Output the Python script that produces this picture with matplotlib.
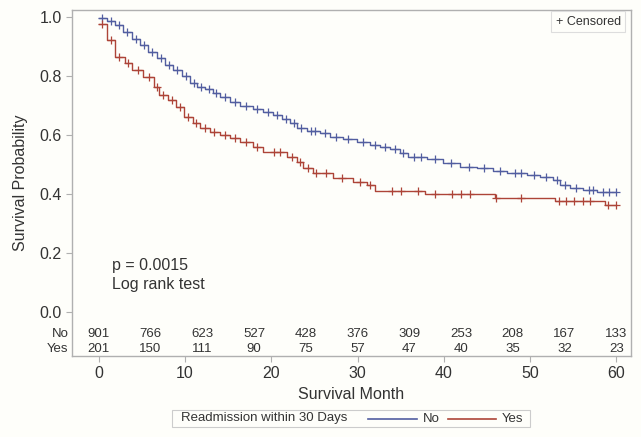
import numpy as np
import matplotlib
matplotlib.use("Agg")
import matplotlib.pyplot as plt
from matplotlib.lines import Line2D
from matplotlib.patches import Rectangle

plt.rcParams['font.family'] = ['Liberation Sans', 'DejaVu Sans']

# ---- data ----
no_t = [0, 0.93, 1.86, 2.78, 3.83, 4.76, 5.68, 6.73, 7.66, 8.58, 9.63, 10.56, 11.37, 12.3, 13.2,
        14.0, 15.2, 16.4, 17.9, 19.0, 20.2, 21.3, 22.2, 23.0, 24.1, 25.6, 26.8, 28.3, 29.9, 31.4,
        32.6, 33.8, 34.9, 35.8, 38.1, 39.9, 41.9, 43.9, 45.7, 47.3, 49.7, 51.2, 52.7, 53.5, 54.6,
        56.1, 57.8, 60.0]
no_s = [0.997, 0.986, 0.973, 0.95, 0.925, 0.905, 0.882, 0.86, 0.837, 0.82, 0.80, 0.776, 0.763,
        0.755, 0.742, 0.73, 0.712, 0.698, 0.688, 0.678, 0.668, 0.654, 0.64, 0.624, 0.614, 0.607,
        0.593, 0.586, 0.576, 0.566, 0.56, 0.552, 0.539, 0.525, 0.518, 0.505, 0.492, 0.488, 0.478,
        0.47, 0.464, 0.458, 0.447, 0.43, 0.42, 0.414, 0.407, 0.407]
no_cens = [0.4, 1.4, 2.3, 3.3, 4.3, 5.2, 6.2, 7.2, 8.1, 9.1, 10.1, 11.0, 11.8, 12.8, 13.6, 14.6,
           15.8, 17.1, 18.4, 19.6, 20.7, 21.7, 22.6, 23.5, 24.6, 25.1, 26.2, 27.5, 28.9, 30.6,
           32.0, 33.2, 34.3, 35.3, 36.6, 37.3, 39.0, 40.8, 42.9, 44.7, 46.5, 48.3, 49.0, 50.4,
           51.9, 53.1, 54.0, 55.3, 56.8, 57.3, 58.5, 59.2, 60.0]

yes_t = [0, 0.93, 1.86, 3.0, 3.9, 5.1, 6.4, 7.0, 8.0, 9.0, 9.9, 10.9, 11.7, 12.9, 14.0, 15.2,
         16.4, 17.9, 19.0, 21.8, 23.0, 23.7, 24.8, 27.1, 29.5, 31.1, 32.0, 37.8, 45.9, 52.9,
         58.7, 60.0]
yes_s = [0.975, 0.922, 0.864, 0.844, 0.82, 0.797, 0.763, 0.735, 0.718, 0.695, 0.661, 0.641,
         0.624, 0.61, 0.60, 0.59, 0.576, 0.56, 0.542, 0.525, 0.508, 0.488, 0.47, 0.455, 0.44,
         0.43, 0.41, 0.40, 0.388, 0.378, 0.362, 0.362]
yes_cens = [0.4, 1.4, 2.4, 3.4, 4.5, 5.8, 6.7, 7.5, 8.5, 9.4, 10.4, 11.3, 12.3, 13.4, 14.6, 15.8,
            17.1, 18.4, 20.3, 21.0, 22.4, 23.3, 24.2, 25.2, 26.3, 28.2, 30.3, 31.5, 34.0, 35.0,
            37.0, 39.0, 41.0, 42.0, 43.0, 46.0, 49.0, 53.3, 54.2, 55.1, 56.1, 57.0, 59.0, 60.0]

risk_months = [0, 6, 12, 18, 24, 30, 36, 42, 48, 54, 60]
risk_no = [901, 766, 623, 527, 428, 376, 309, 253, 208, 167, 133]
risk_yes = [201, 150, 111, 90, 75, 57, 47, 40, 35, 32, 23]

BLUE = '#525ea0'
RED = '#ad4438'
BG = '#fefefa'
TXT = '#333333'

fig = plt.figure(figsize=(6.41, 4.37), dpi=100, facecolor=BG)
ax = fig.add_axes([72/641, 1-356/437, (631-72)/641, (356-10)/437])
ax.set_facecolor(BG)


def step_val(t, s, x):
    i = np.searchsorted(t, x, side='right') - 1
    return np.asarray(s)[np.clip(i, 0, len(s)-1)]


for t, s, c, cens in [(no_t, no_s, BLUE, no_cens), (yes_t, yes_s, RED, yes_cens)]:
    ax.step(t, s, where='post', color=c, lw=1.0)
    ax.plot(cens, step_val(t, s, np.array(cens)), ls='none', marker='+', ms=6, mew=0.9, color=c)

ax.set_xlim(-3.1, 61.7)
ax.set_ylim(-0.149, 1.024)
ax.set_yticks([0, 0.2, 0.4, 0.6, 0.8, 1.0])
ax.set_yticklabels(['0.0', '0.2', '0.4', '0.6', '0.8', '1.0'])
ax.set_xticks([0, 10, 20, 30, 40, 50, 60])
for sp in ax.spines.values():
    sp.set_color('#b0b0b0')
    sp.set_linewidth(1.0)
ax.tick_params(axis='both', colors='#b0b0b0', labelcolor=TXT, labelsize=11.5, length=4, width=0.8)
ax.set_xlabel('Survival Month', fontsize=11.5, color=TXT, labelpad=4)
ax.set_ylabel('Survival Probability', fontsize=11.5, color=TXT, labelpad=8)

# at-risk table
yr_no = (312-334)/295
yr_yes = (312-349)/295
for m, a, b in zip(risk_months, risk_no, risk_yes):
    ax.text(m, yr_no, str(a), ha='center', va='center', fontsize=9.5, color=TXT)
    ax.text(m, yr_yes, str(b), ha='center', va='center', fontsize=9.5, color=TXT)
ax.text(-3.5, yr_no, 'No', ha='right', va='center', fontsize=9.5, color=TXT)
ax.text(-3.5, yr_yes, 'Yes', ha='right', va='center', fontsize=9.5, color=TXT)

# p-value text
ax.text(1.5, (312-265)/295, 'p = 0.0015', ha='left', va='center', fontsize=11.5, color=TXT)
ax.text(1.5, (312-284)/295, 'Log rank test', ha='left', va='center', fontsize=11.5, color=TXT)

# censored legend
ax.text(0.982, 0.966, '+ Censored', transform=ax.transAxes, ha='right', va='center', fontsize=9,
        color=TXT, bbox=dict(boxstyle='square,pad=0.35', fc=BG, ec='#dddddd', lw=0.8))

# bottom legend
W, H = 641, 437
fig.patches.append(Rectangle((172/W, 1-427/H), (530-172)/W, 17/H, transform=fig.transFigure,
                             fc=BG, ec='#cccccc', lw=0.8))
ymid = 1-418.5/H
fig.text(181/W, ymid, 'Readmission within 30 Days', ha='left', va='center', fontsize=9.5, color=TXT)
fig.lines.append(Line2D([368/W, 417/W], [ymid, ymid], transform=fig.transFigure, color=BLUE, lw=1.2))
fig.text(423/W, ymid, 'No', ha='left', va='center', fontsize=9.5, color=TXT)
fig.lines.append(Line2D([448/W, 496/W], [ymid, ymid], transform=fig.transFigure, color=RED, lw=1.2))
fig.text(502/W, ymid, 'Yes', ha='left', va='center', fontsize=9.5, color=TXT)

fig.savefig('out.png', dpi=100, facecolor=BG)
